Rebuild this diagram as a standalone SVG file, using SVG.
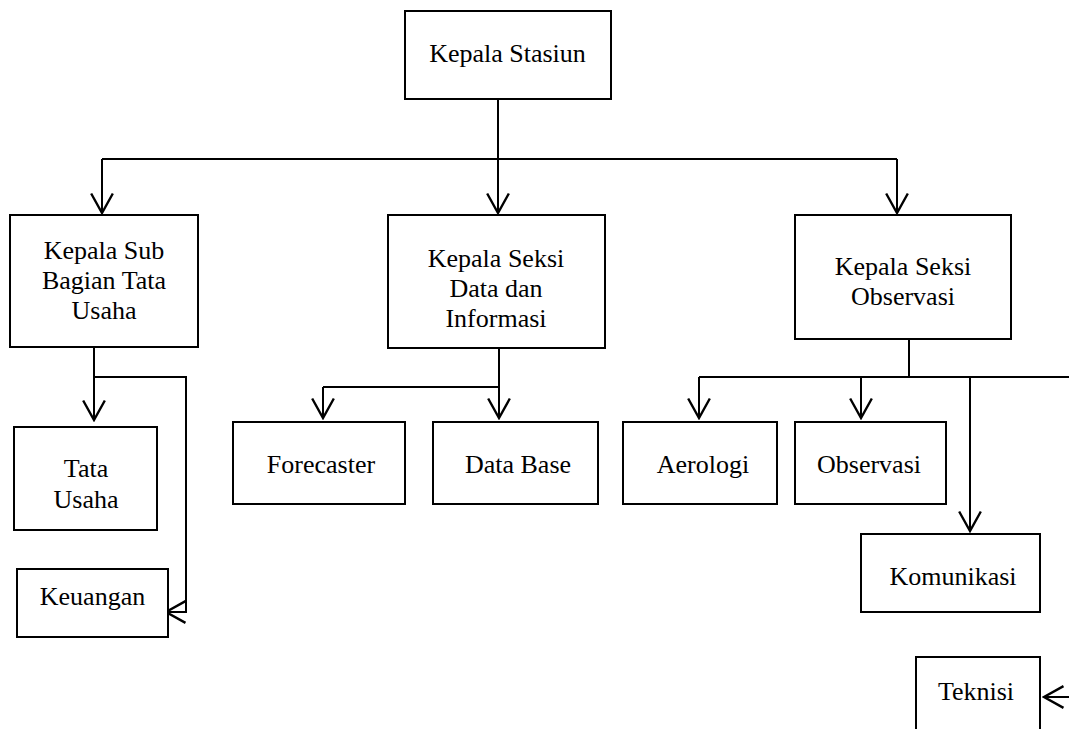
<svg xmlns="http://www.w3.org/2000/svg" width="1069" height="729" viewBox="0 0 1069 729">
<style>
.box{fill:#fff;stroke:#000;stroke-width:2}
.ln{fill:none;stroke:#000;stroke-width:2}
text{font-family:"Liberation Serif","Times New Roman",serif;font-size:26px;fill:#000;text-anchor:middle}
</style>
<defs>
<marker id="ah" markerUnits="userSpaceOnUse" markerWidth="24" markerHeight="26" viewBox="-20 -12 22 24" refX="0" refY="0" orient="auto">
<path d="M-18,-10 L0,0 L-18,10" fill="none" stroke="#000" stroke-width="2.2"/>
</marker>
</defs>
<rect width="1069" height="729" fill="#fff"/>
<g id="connectors">
<path class="ln" d="M498,99 V159"/>
<path class="ln" d="M102,159 H897"/>
<path class="ln" d="M102,159 V213" marker-end="url(#ah)"/>
<path class="ln" d="M498,159 V213" marker-end="url(#ah)"/>
<path class="ln" d="M897,159 V213" marker-end="url(#ah)"/>
<path class="ln" d="M94,347 V420" marker-end="url(#ah)"/>
<path class="ln" d="M94,377 H186 V612 H166" marker-end="url(#ah)"/>
<path class="ln" d="M499,348 V387"/>
<path class="ln" d="M323,387 H499"/>
<path class="ln" d="M323,387 V418" marker-end="url(#ah)"/>
<path class="ln" d="M499,387 V418" marker-end="url(#ah)"/>
<path class="ln" d="M909,339 V377"/>
<path class="ln" d="M699,377 H1069"/>
<path class="ln" d="M699,377 V418" marker-end="url(#ah)"/>
<path class="ln" d="M861,377 V418" marker-end="url(#ah)"/>
<path class="ln" d="M970,377 V531" marker-end="url(#ah)"/>
<path class="ln" d="M1069,697 H1044" marker-end="url(#ah)"/>
</g>
<g id="kepala-stasiun"><rect class="box" x="405" y="11" width="206" height="88"/><text x="507.5" y="62">Kepala Stasiun</text></g>
<g id="kepala-sub"><rect class="box" x="10" y="215" width="188" height="132"/><text x="104" y="259">Kepala Sub</text><text x="104" y="289">Bagian Tata</text><text x="104" y="319">Usaha</text></g>
<g id="kepala-seksi-data"><rect class="box" x="388" y="215" width="217" height="133"/><text x="496" y="267">Kepala Seksi</text><text x="496" y="297">Data dan</text><text x="496" y="327">Informasi</text></g>
<g id="kepala-seksi-obs"><rect class="box" x="795" y="215" width="216" height="124"/><text x="903" y="275">Kepala Seksi</text><text x="903" y="305">Observasi</text></g>
<g id="tata-usaha"><rect class="box" x="14" y="427" width="143" height="103"/><text x="86" y="477">Tata</text><text x="86" y="508">Usaha</text></g>
<g id="keuangan"><rect class="box" x="17" y="569" width="151" height="68"/><text x="92.5" y="605">Keuangan</text></g>
<g id="forecaster"><rect class="box" x="233" y="422" width="172" height="82"/><text x="321" y="473">Forecaster</text></g>
<g id="data-base"><rect class="box" x="433" y="422" width="165" height="82"/><text x="518" y="473">Data Base</text></g>
<g id="aerologi"><rect class="box" x="623" y="422" width="154" height="82"/><text x="703" y="473">Aerologi</text></g>
<g id="observasi"><rect class="box" x="795" y="422" width="151" height="82"/><text x="869" y="473">Observasi</text></g>
<g id="komunikasi"><rect class="box" x="861" y="534" width="179" height="78"/><text x="953" y="585">Komunikasi</text></g>
<g id="teknisi"><rect class="box" x="916" y="657" width="124" height="90"/><text x="976" y="700">Teknisi</text></g>
</svg>
